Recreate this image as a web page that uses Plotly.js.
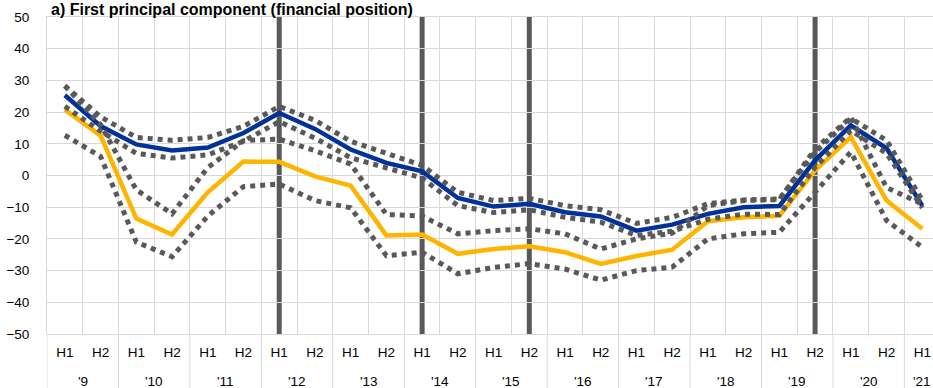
<!DOCTYPE html>
<html><head><meta charset="utf-8">
<script src="https://cdn.plot.ly/plotly-3.0.1.min.js"></script>
<style>html,body{margin:0;padding:0;background:#fff;} #chart{width:933px;height:388px;}</style>
</head><body><div id="chart"></div>
<script>
// Categories (half-years)
const halves = ["H1","H2","H1","H2","H1","H2","H1","H2","H1","H2","H1","H2","H1","H2","H1","H2","H1","H2","H1","H2","H1","H2","H1","H2","H1"];
const years  = ["'9","'9","'10","'10","'11","'11","'12","'12","'13","'13","'14","'14","'15","'15","'16","'16","'17","'17","'18","'18","'19","'19","'20","'20","'21"];
// Vertical marker periods
const markers = ["H1 '12","H1 '14","H2 '15","H2 '19"];

// Series values
const blue      = [25.3, 15.6, 9.8, 7.9, 8.8, 13.4, 19.7, 14.7, 8.2, 4.0, 1.3, -7.1, -9.8, -8.9, -11.6, -12.9, -17.4, -15.5, -12.1, -10.0, -9.6, 4.8, 15.8, 8.6, -9.5];
const blueUpper = [28.3, 18.5, 12.0, 11.1, 12.0, 15.5, 21.8, 17.4, 10.8, 6.8, 3.2, -5.3, -7.9, -7.2, -9.5, -10.8, -15.1, -13.2, -8.9, -7.7, -7.4, 7.4, 18.0, 11.1, -7.8];
const blueLower = [21.8, 14.0, 7.0, 5.5, 6.5, 10.8, 17.0, 11.8, 5.6, 2.3, -0.8, -9.5, -11.7, -10.8, -13.2, -14.7, -18.9, -17.6, -13.8, -12.2, -12.3, 2.6, 14.2, 7.0, -10.2];
const yellow      = [20.8, 12.6, -13.6, -18.6, -5.3, 4.4, 4.3, -0.3, -3.2, -18.9, -18.6, -24.7, -23.2, -22.3, -24.2, -27.9, -25.4, -23.4, -14.4, -13.2, -12.7, 1.6, 12.1, -7.9, -16.8];
const yellowUpper = [28.3, 16.0, -4.5, -12.1, 2.5, 11.0, 11.5, 7.8, 3.6, -12.3, -12.8, -18.4, -17.4, -16.8, -18.4, -23.2, -20.0, -18.2, -9.5, -7.9, -7.6, 8.4, 18.4, -3.8, -9.0];
const yellowLower = [12.7, 6.0, -21.0, -25.6, -12.8, -3.5, -2.7, -7.9, -10.2, -25.3, -24.2, -31.0, -29.0, -27.8, -29.5, -33.0, -30.0, -28.9, -20.0, -18.4, -17.9, -5.5, 7.4, -14.2, -22.6];

const idx = halves.map((_, i) => i);

const GRID = '#d9d9d9';
const FONT = 'Arial, "Liberation Sans", sans-serif';

function solid(y, color){
  return {x: idx, y: y, type:'scatter', mode:'lines', line:{color: color, width:4.5}, hoverinfo:'skip'};
}
function dotted(y){
  return {x: idx, y: y, type:'scatter', mode:'lines', line:{color:'#595959', width:5, dash:'5px,5px'}, hoverinfo:'skip'};
}
const traces = [
  solid(yellow, '#FFB400'),
  solid(blue, '#003299'),
  dotted(yellowUpper), dotted(yellowLower),
  dotted(blueUpper), dotted(blueLower)
];

// Year groups
const groups = [];
years.forEach((y, i) => {
  if (!groups.length || groups[groups.length-1].label !== y) groups.push({label: y, first: i, last: i});
  else groups[groups.length-1].last = i;
});

const boundaries = idx.map(i => i - 0.5).concat([idx.length - 0.5]);

const shapes = [];
groups.forEach(g => {
  shapes.push({type:'line', xref:'x', yref:'paper', x0: g.first - 0.5, x1: g.first - 0.5, y0: 0, y1: -0.3,
    line:{color: GRID, width:1}, layer:'above'});
});
markers.forEach(m => {
  const [h, yr] = m.split(' ');
  const i = idx.find(k => halves[k] === h && years[k] === yr);
  shapes.push({type:'line', xref:'x', yref:'paper', x0: i, x1: i, y0: 0, y1: 1,
    line:{color:'#595959', width:5}, layer:'between'});
});

const annotations = groups.map(g => ({
  x: (g.first + g.last) / 2, xref:'x', y: -0.1505, yref:'paper',
  text: g.label, showarrow:false, xanchor:'center', yanchor:'middle',
  font:{family: FONT, size:13.5, color:'#000'}
}));
annotations.push({
  x: 0.0034, xref:'paper', y: 1.0536, yref:'paper', xanchor:'left', yanchor:'top',
  text:'<b>a) First principal component (financial position)</b>', showarrow:false,
  font:{family: FONT, size:16, color:'#000'}, borderpad:0
});

const layout = {
  width:933, height:388,
  margin:{l:47, r:0, t:17, b:54},
  paper_bgcolor:'#fff', plot_bgcolor:'#fff',
  showlegend:false,
  font:{family: FONT, size:13.5, color:'#000'},
  xaxis:{
    range:[-0.5, 24.3], tickmode:'array', tickvals: idx, ticktext: halves,
    showgrid:false, zeroline:false, ticks:'', showline:true, linecolor: GRID, linewidth:1, mirror:true,
    minor:{tickmode:'array', tickvals: boundaries, showgrid:true, gridcolor: GRID, gridwidth:1, ticks:''},
    tickfont:{family: FONT, size:13.5, color:'#000'}, ticklabelstandoff: 6, fixedrange:true
  },
  yaxis:{
    range:[-50, 50], tickmode:'linear', tick0:0, dtick:10,
    showgrid:true, gridcolor: GRID, gridwidth:1, zeroline:false, ticks:'',
    showline:true, linecolor: GRID, linewidth:1,
    tickfont:{family: FONT, size:13.5, color:'#000'}, ticklabelstandoff: 14, fixedrange:true
  },
  shapes: shapes,
  annotations: annotations
};

Plotly.newPlot('chart', traces, layout, {staticPlot:true, displayModeBar:false});
</script>
</body></html>
